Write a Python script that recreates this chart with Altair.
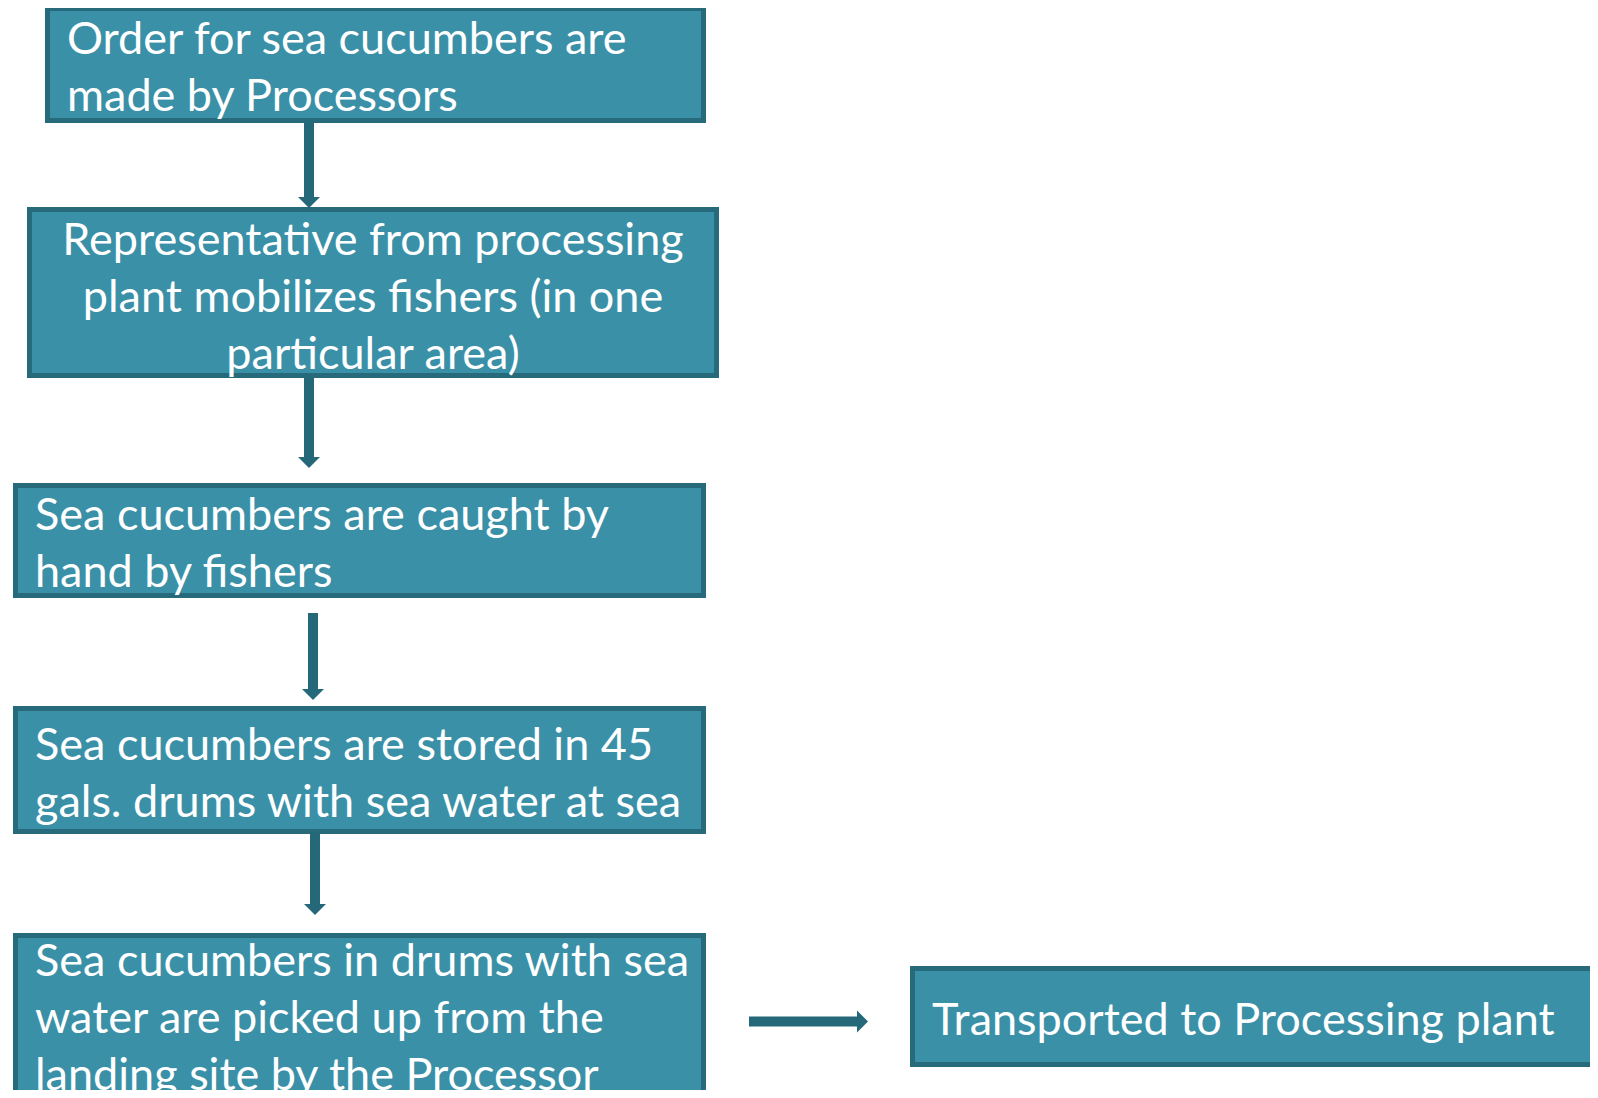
import altair as alt
import pandas as pd

# ---- content -------------------------------------------------------------
box_lines = [
    ["Order for sea cucumbers are", "made by Processors"],
    ["Representative from processing", "plant mobilizes fishers (in one", "particular area)"],
    ["Sea cucumbers are caught by", "hand by fishers"],
    ["Sea cucumbers are stored in 45", "gals. drums with sea water at sea"],
    ["Sea cucumbers in drums with sea", "water are picked up from the", "landing site by the Processor"],
    ["Transported to Processing plant"],
]

# ---- layout (page pixels) ------------------------------------------------
box_x0 = [45, 27, 13, 13, 13, 910]
box_x1 = [706, 719, 706, 706, 706, 1640]
box_y0 = [6, 207, 483, 706, 933, 966]
box_y1 = [123, 378, 598, 834, 1140, 1067]
text_x = [67, 373, 35, 35, 35, 932]
text_align = ["left", "center", "left", "left", "left", "left"]
text_y0 = [54, 255, 530, 760, 976, 1035]
line_step = 57

v_arrow_x = [309, 309, 313, 315]
v_arrow_y0 = [121, 377, 613, 832]
v_arrow_tip = [208, 468, 700, 915]
h_arrow_y = [1021.5]
h_arrow_x0 = [749]
h_arrow_tip = [868]

FILL = "#3A90A7"
BORDER = "#276A7B"
ARROW = "#25687A"
BW = 5
HEAD_W = 22
HEAD_L = 11

W, H = 1582, 1082
xs = alt.Scale(domain=[8, 8 + W], nice=False, zero=False)
ys = alt.Scale(domain=[8, 8 + H], nice=False, zero=False, reverse=True)

boxes = pd.DataFrame({
    "x0": [v + BW / 2 for v in box_x0],
    "x1": [v - BW / 2 for v in box_x1],
    "y0": [v + BW / 2 for v in box_y0],
    "y1": [v - BW / 2 for v in box_y1],
})

rows = []
for i, lines in enumerate(box_lines):
    for j, t in enumerate(lines):
        rows.append({"x": text_x[i], "y": text_y0[i] + j * line_step,
                     "t": t, "align": text_align[i]})
texts = pd.DataFrame(rows)

stems = pd.DataFrame(
    [{"x": x, "x2": x, "y": a, "y2": b - HEAD_L + 1}
     for x, a, b in zip(v_arrow_x, v_arrow_y0, v_arrow_tip)]
    + [{"x": a, "x2": b - HEAD_L + 1, "y": y, "y2": y}
       for y, a, b in zip(h_arrow_y, h_arrow_x0, h_arrow_tip)]
)
down_heads = pd.DataFrame({"x": v_arrow_x, "y": [t - HEAD_L / 2 for t in v_arrow_tip]})
right_heads = pd.DataFrame({"x": [t - HEAD_L / 2 for t in h_arrow_tip], "y": h_arrow_y})

rect = alt.Chart(boxes).mark_rect(fill=FILL, stroke=BORDER, strokeWidth=BW, clip=True).encode(
    x=alt.X("x0:Q", scale=xs, axis=None), x2="x1:Q",
    y=alt.Y("y0:Q", scale=ys, axis=None), y2="y1:Q",
)

layers = [rect]
for al in ["left", "center"]:
    sub = texts[texts["align"] == al]
    layers.append(
        alt.Chart(sub).mark_text(align=al, baseline="alphabetic", font="Lato",
                                 fontSize=45, color="white", clip=True).encode(
            x=alt.X("x:Q", scale=xs, axis=None),
            y=alt.Y("y:Q", scale=ys, axis=None),
            text="t:N",
        )
    )

stem = alt.Chart(stems).mark_rule(color=ARROW, strokeWidth=10).encode(
    x=alt.X("x:Q", scale=xs, axis=None), x2="x2:Q",
    y=alt.Y("y:Q", scale=ys, axis=None), y2="y2:Q",
)
dh = alt.Chart(down_heads).mark_point(
    shape="M-1,-0.5L1,-0.5L0,0.5Z", filled=True, fill=ARROW, opacity=1,
    size=HEAD_W ** 2, strokeWidth=0).encode(
    x=alt.X("x:Q", scale=xs, axis=None), y=alt.Y("y:Q", scale=ys, axis=None))
rh = alt.Chart(right_heads).mark_point(
    shape="M-0.5,-1L0.5,0L-0.5,1Z", filled=True, fill=ARROW, opacity=1,
    size=HEAD_W ** 2, strokeWidth=0).encode(
    x=alt.X("x:Q", scale=xs, axis=None), y=alt.Y("y:Q", scale=ys, axis=None))

layers += [stem, dh, rh]

chart = alt.layer(*layers).properties(
    width=W, height=H, padding=0, background="white"
).configure_view(stroke=None)

chart.save("out.html", embed_options={"renderer": "svg", "actions": False})
